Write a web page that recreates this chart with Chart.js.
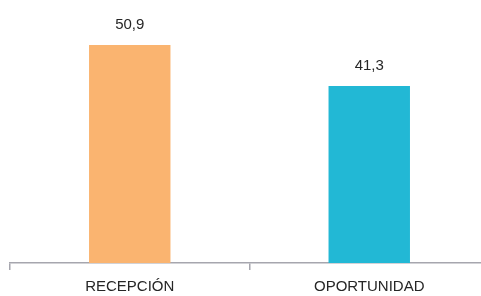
<!DOCTYPE html>
<html>
<head>
<meta charset="utf-8">
<script src="https://cdn.jsdelivr.net/npm/chart.js@4"></script>
<style>
  html, body { margin: 0; padding: 0; background: #fff; overflow: hidden; }
  #wrap { width: 500px; height: 305px; }
</style>
</head>
<body>
<div id="wrap"><canvas id="bars" width="500" height="305"></canvas></div>
<script>
// Data
const categories = ['RECEPCIÓN', 'OPORTUNIDAD'];
const values = [50.9, 41.3];
const valueLabels = ['50,9', '41,3'];

const COLORS = {
  orange: '#FAB470',
  blue: '#22B8D5',
  axis: '#A6A6AE',
  text: '#262626'
};

const ctx = document.getElementById('bars').getContext('2d');

new Chart(ctx, {
  type: 'bar',
  data: {
    labels: categories,
    datasets: [{
      data: values,
      backgroundColor: [COLORS.orange, COLORS.blue],
      borderWidth: 0,
      categoryPercentage: 1,
      barPercentage: 0.34
    }]
  },
  options: {
    responsive: false,
    animation: false,
    devicePixelRatio: 1,
    layout: {
      padding: { left: 10, right: 11, top: 6, bottom: 1 }
    },
    plugins: {
      legend: { display: false },
      tooltip: { enabled: false }
    },
    scales: {
      x: {
        offset: true,
        border: { display: true, color: COLORS.axis, width: 1.5 },
        grid: {
          offset: true,
          drawOnChartArea: false,
          drawTicks: true,
          tickLength: 7,
          color: COLORS.axis,
          lineWidth: 1.5
        },
        ticks: {
          color: COLORS.text,
          padding: 8,
          font: { family: 'Liberation Sans, Arial, sans-serif', size: 15 }
        }
      },
      y: {
        display: false,
        min: 0,
        max: 60
      }
    }
  },
  plugins: [{
    // value labels above each bar
    id: 'valueLabels',
    afterDatasetsDraw: (chart) => {
      const c = chart.ctx;
      c.save();
      c.font = '15px "Liberation Sans", Arial, sans-serif';
      c.fillStyle = COLORS.text;
      c.textAlign = 'center';
      c.textBaseline = 'bottom';
      chart.getDatasetMeta(0).data.forEach((bar, i) => {
        c.fillText(valueLabels[i], bar.x, bar.y - 13);
      });
      c.restore();
    }
  }]
});
</script>
</body>
</html>
